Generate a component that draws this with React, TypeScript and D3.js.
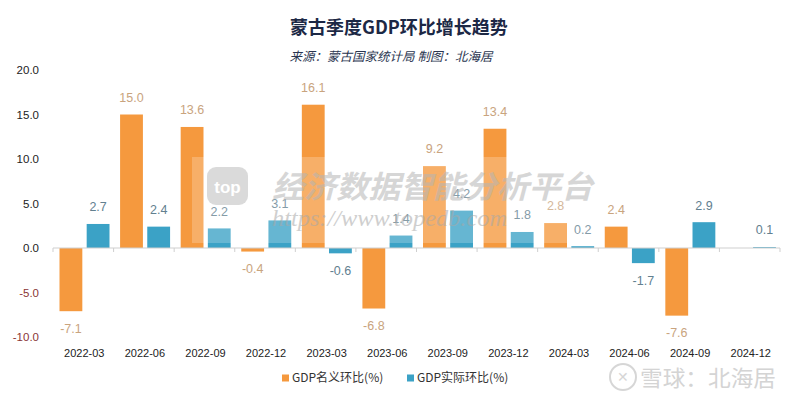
import React from "react";
import * as d3 from "d3";

const categories = ["2022-03","2022-06","2022-09","2022-12","2023-03","2023-06","2023-09","2023-12","2024-03","2024-06","2024-09","2024-12"];
const nominal: (number | null)[] = [-7.1, 15.0, 13.6, -0.4, 16.1, -6.8, 9.2, 13.4, 2.8, 2.4, -7.6, null];
const real: (number | null)[] = [2.7, 2.4, 2.2, 3.1, -0.6, 1.4, 4.2, 1.8, 0.2, -1.7, 2.9, 0.1];
const yTicks = [20, 15, 10, 5, 0, -5, -10];
const seriesNames = ["GDP名义环比(%)", "GDP实际环比(%)"];
const seriesColors = ["#F5993E", "#3BA2C6"];
const labelColors = ["#C9A47E", "#62808F"];

const W = 800, H = 399;
const left = 53, right = 780, top = 70, bottom = 337;

export default function App() {
  const x = d3.scaleBand<string>().domain(categories).range([left, right]).padding(0);
  const inner = d3.scaleBand<string>().domain(["n", "r"]).range([6.5, 56.5]).paddingInner(0.16);
  const y = d3.scaleLinear().domain([-10, 20]).range([bottom, top]);
  const series = [nominal, real];
  const keys = ["n", "r"];
  const font = "Arial, 'Liberation Sans', 'Noto Sans CJK SC', sans-serif";
  const cjk = "'Noto Sans CJK SC', sans-serif";

  return (
    <svg width={W} height={H} style={{ position: "absolute", left: 0, top: 0, background: "#fff" }}>
      <rect x={0} y={0} width={W} height={H} fill="#fff" />
      <text x={399} y={34} textAnchor="middle" fontFamily={cjk} fontWeight="bold" fontSize={18} fill="#1c2845">蒙古季度GDP环比增长趋势</text>
      <text x={391} y={61} textAnchor="middle" fontFamily={cjk} fontStyle="italic" fontSize={12.5} fill="#2a3550" transform="skewX(0)">
        来源：蒙古国家统计局 制图：北海居
      </text>

      {yTicks.map((t) => (
        <text key={t} x={39} y={y(t)} dy="0.35em" textAnchor="end" fontFamily={font} fontSize={11.5} fill={t < 0 ? "#8B3535" : "#222"}>
          {t.toFixed(1)}
        </text>
      ))}

      {series.map((vals, si) =>
        vals.map((v, i) => {
          if (v === null) return null;
          const bx = (x(categories[i]) as number) + (inner(keys[si]) as number);
          const y0 = y(0), y1 = y(v);
          return (
            <rect key={`b${si}-${i}`} x={bx} y={Math.min(y0, y1)} width={inner.bandwidth()} height={Math.max(Math.abs(y1 - y0), 0.8)} fill={seriesColors[si]} />
          );
        })
      )}

      {/* axis */}
      <line x1={left} x2={right} y1={y(0)} y2={y(0)} stroke="#cfcfcf" strokeWidth={1} />
      {d3.range(categories.length + 1).map((i) => {
        const xx = left + i * x.step();
        return <line key={`t${i}`} x1={xx} x2={xx} y1={y(0)} y2={y(0) + 4} stroke="#cfcfcf" />;
      })}

      {series.map((vals, si) =>
        vals.map((v, i) => {
          if (v === null) return null;
          const cx = (x(categories[i]) as number) + (inner(keys[si]) as number) + inner.bandwidth() / 2;
          const ly = v >= 0 ? y(v) - 17 : y(v) + 17;
          return (
            <text key={`l${si}-${i}`} x={cx} y={ly} dy="0.35em" textAnchor="middle" fontFamily={font} fontSize={12.5} fill={labelColors[si]}>
              {v.toFixed(1)}
            </text>
          );
        })
      )}

      {categories.map((c) => (
        <text key={c} x={(x(c) as number) + x.bandwidth() / 2 + 1} y={353} dy="0.35em" textAnchor="middle" fontFamily={font} fontSize={11} fill="#222">
          {c}
        </text>
      ))}

      {/* legend */}
      {seriesNames.map((n, i) => {
        const lx = i === 0 ? 282 : 407;
        return (
          <g key={n}>
            <rect x={lx} y={374.5} width={7} height={7} fill={seriesColors[i]} />
            <text x={lx + 10} y={378} dy="0.35em" fontFamily={cjk} fontSize={12} fill="#333">{n}</text>
          </g>
        );
      })}

      {/* watermark overlay */}
      <rect x={192} y={157} width={400} height={86} fill="#fff" opacity={0.22} />
      <g opacity={0.55}>
        <rect x={207} y={167} width={41} height={38} rx={9} fill="#bdbdbd" />
        <text x={227.5} y={187} dy="0.35em" textAnchor="middle" fontFamily={font} fontWeight="bold" fontSize={17} fill="#fff">top</text>
        <text x={272} y={187} dy="0.35em" fontFamily={cjk} fontWeight="bold" fontStyle="italic" fontSize={31} fill="#b5b5b5" textLength={321} lengthAdjust="spacingAndGlyphs">经济数据智能分析平台</text>
        <text x={272} y={218} dy="0.35em" fontFamily="'Liberation Serif', 'DejaVu Serif', serif" fontStyle="italic" fontSize={24} fill="#a8a8a8" textLength={235} lengthAdjust="spacingAndGlyphs">https://www.topedb.com</text>
      </g>
      <g opacity={0.7}>
        <circle cx={623} cy={377} r={13} fill="none" stroke="#c6c6c6" strokeWidth={2} />
        <text x={623} y={377} dy="0.35em" textAnchor="middle" fontFamily={font} fontSize={14} fill="#c6c6c6">✕</text>
        <text x={640} y={378} dy="0.35em" fontFamily={cjk} fontSize={22} fill="#c2c2c2" textLength={136} lengthAdjust="spacingAndGlyphs">雪球：北海居</text>
      </g>
    </svg>
  );
}
